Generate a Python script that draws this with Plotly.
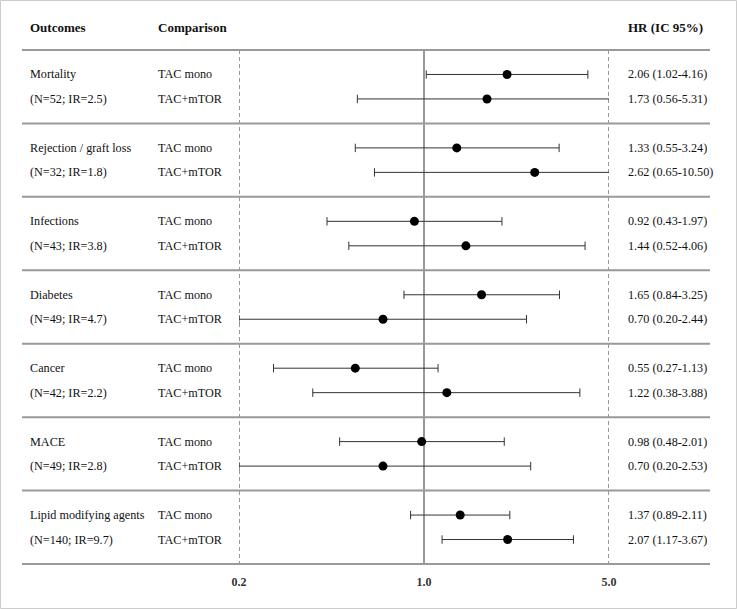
import plotly.graph_objects as go

outcomes = ["Mortality", "Rejection / graft loss", "Infections", "Diabetes",
            "Cancer", "MACE", "Lipid modifying agents"]
stats = ["(N=52; IR=2.5)", "(N=32; IR=1.8)", "(N=43; IR=3.8)", "(N=49; IR=4.7)",
         "(N=42; IR=2.2)", "(N=49; IR=2.8)", "(N=140; IR=9.7)"]
comparisons = ["TAC mono", "TAC+mTOR"]

hr_mono = [2.06, 1.33, 0.92, 1.65, 0.55, 0.98, 1.37]
lo_mono = [1.02, 0.55, 0.43, 0.84, 0.27, 0.48, 0.89]
hi_mono = [4.16, 3.24, 1.97, 3.25, 1.13, 2.01, 2.11]

hr_mtor = [1.73, 2.62, 1.44, 0.70, 1.22, 0.70, 2.07]
lo_mtor = [0.56, 0.65, 0.52, 0.20, 0.38, 0.20, 1.17]
hi_mtor = [5.31, 10.50, 4.06, 2.44, 3.88, 2.53, 3.67]

tick_vals = [0.2, 1.0, 5.0]
tick_text = ["0.2", "1.0", "5.0"]

W, H = 737, 609
L, R, T, B = 239, 609, 50, 564
n_groups = len(outcomes)
ymax = 3 * n_groups

def px(x):
    return (x - L) / (R - L)

def py(y):
    return (B - y) / (B - T)

FONT = "Liberation Serif, Times New Roman, Times, serif"
txt_color = "#111111"
grid_color = "#999999"

fig = go.Figure()

# reference lines
for v, dash, w in [(0.2, "4px,3px", 2), (1.0, "solid", 2), (5.0, "4px,3px", 2)]:
    fig.add_trace(go.Scatter(x=[v, v], y=[0, ymax], mode="lines",
                             line=dict(color=grid_color, width=w, dash=dash),
                             hoverinfo="skip", showlegend=False))

# rows
ys, hrs, los, his = [], [], [], []
for i in range(n_groups):
    ys += [3 * i + 1, 3 * i + 2]
    hrs += [hr_mono[i], hr_mtor[i]]
    los += [lo_mono[i], lo_mtor[i]]
    his += [hi_mono[i], hi_mtor[i]]

lx, ly = [], []
for y, lo, hi in zip(ys, los, his):
    lx += [lo, hi, None]
    ly += [y, y, None]
fig.add_trace(go.Scatter(x=lx, y=ly, mode="lines",
                         line=dict(color="#333333", width=1),
                         hoverinfo="skip", showlegend=False))
fig.add_trace(go.Scatter(x=los + his, y=ys + ys, mode="markers",
                         marker=dict(symbol="line-ns", size=6,
                                     line=dict(color="#333333", width=1)),
                         cliponaxis=True, hoverinfo="skip", showlegend=False))
fig.add_trace(go.Scatter(x=hrs, y=ys, mode="markers",
                         marker=dict(symbol="circle", size=9, color="black"),
                         hoverinfo="skip", showlegend=False))

annotations = []
def ann(text, x, y, size=12.2, bold=False, yref="y"):
    annotations.append(dict(text=("<b>%s</b>" % text) if bold else text,
                            x=px(x), xref="paper", y=y, yref=yref,
                            xanchor="left", yanchor="middle", showarrow=False,
                            font=dict(family=FONT, size=size, color=txt_color)))

X1, X2, X3 = 28, 156, 626
hdr_y = py(28)
ann("Outcomes", X1, hdr_y, size=13, bold=True, yref="paper")
ann("Comparison", X2, hdr_y, size=13, bold=True, yref="paper")
ann("HR (IC 95%)", X3, hdr_y, size=13, bold=True, yref="paper")

for i in range(n_groups):
    ann(outcomes[i], X1, 3 * i + 1)
    ann(stats[i], X1, 3 * i + 2)
    ann(comparisons[0], X2, 3 * i + 1)
    ann(comparisons[1], X2, 3 * i + 2)
    ann("%.2f (%.2f-%.2f)" % (hr_mono[i], lo_mono[i], hi_mono[i]), X3, 3 * i + 1)
    ann("%.2f (%.2f-%.2f)" % (hr_mtor[i], lo_mtor[i], hi_mtor[i]), X3, 3 * i + 2)

shapes = []
for k in range(n_groups + 1):
    yp = 1 - (3 * k) / ymax
    shapes.append(dict(type="line", xref="paper", yref="paper",
                       x0=px(22), x1=px(710), y0=yp, y1=yp,
                       line=dict(color=grid_color, width=2)))
shapes.append(dict(type="rect", xref="paper", yref="paper",
                   x0=px(0.5), x1=px(736.5), y0=py(608.5), y1=py(0.5),
                   line=dict(color="#cccccc", width=1)))

fig.update_layout(
    width=W, height=H,
    margin=dict(l=L, r=W - R, t=T, b=H - B, pad=0),
    paper_bgcolor="white", plot_bgcolor="white",
    showlegend=False,
    font=dict(family=FONT),
    annotations=annotations, shapes=shapes,
    xaxis=dict(type="log", range=[-0.69897, 0.69897],
               tickvals=tick_vals, ticktext=["<b>%s</b>" % t for t in tick_text],
               tickfont=dict(family=FONT, size=12, color="#333333"),
               ticklabelstandoff=9,
               showgrid=False, zeroline=False, showline=False, ticks=""),
    yaxis=dict(range=[ymax, 0], showgrid=False, zeroline=False,
               showline=False, showticklabels=False, ticks=""),
)

fig.write_html("out.html", config={"displayModeBar": False},
               post_script="document.body.style.margin='0';document.body.style.padding='0';")
